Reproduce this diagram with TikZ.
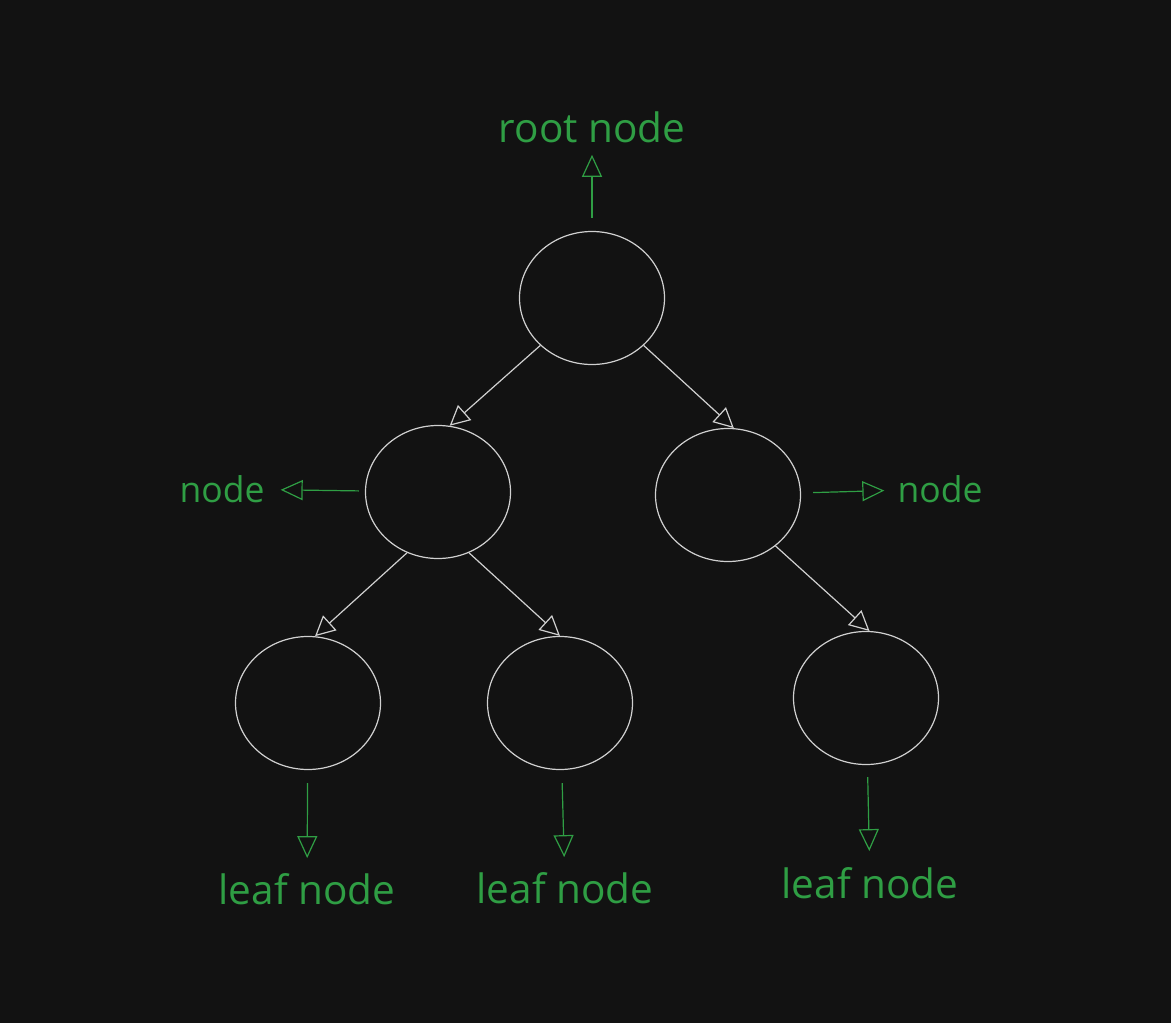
\documentclass[tikz,border=0pt]{standalone}
\usepackage{fontspec}
\setmainfont{Open Sans}
\usetikzlibrary{arrows.meta,positioning,shapes.geometric}
\definecolor{bgdark}{HTML}{121212}
\definecolor{tagcolor}{HTML}{2F9E44}
\definecolor{linecolor}{HTML}{D0D0D0}

\begin{document}
\begin{tikzpicture}[x=1pt,y=-1pt,
		vert/.style={ellipse,draw=linecolor,line width=1.2pt,minimum width=145pt,minimum height=133pt,inner sep=0pt},
		link/.style={draw=linecolor,line width=1.2pt,-{Triangle[open,length=20pt,width=20pt]}},
		tag/.style={text=tagcolor,font=\fontsize{40.5}{46}\selectfont,inner sep=2pt},
		small tag/.style={tag,font=\fontsize{35.5}{40}\selectfont},
		pointer/.style={draw=tagcolor,line width=1.2pt,-{Triangle[open,length=22pt,width=20pt]}}]
			\fill[bgdark] (0,0) rectangle (1171,1023);
			% tree
			\node[vert] (v_0) at (592,298) {};
			\node[vert] (v_1) at (438,492) {};
			\node[vert] (v_2) at (728,495) {};
			\node[vert] (v_3) at (308,703) {};
			\node[vert] (v_4) at (560,703) {};
			\node[vert] (v_5) at (866,698) {};
			\path[every edge/.style={link}]
				(v_0.south west) edge (v_1.80)
				(v_0.south east) edge (v_2.85)
				(v_1.243) edge (v_3.84)
				(v_1.297) edge (v_4.north)
				(v_2.313) edge (v_5.87);
			% labels
			\node[tag] (t_0) at (592,127) {root node};
			\node[small tag] (t_1) at (222,489) {node};
			\node[small tag] (t_2) at (940,489) {node};
			\node[tag] (t_3) at (307,889) {leaf node};
			\node[tag] (t_4) at (565,888) {leaf node};
			\node[tag] (t_5) at (870,883) {leaf node};
			\draw[pointer,shorten <=13pt,shorten >=10pt] (v_0) -- (t_0);
			\draw[pointer,shorten <=6pt,shorten >=14pt] (v_1) -- (t_1);
			\draw[pointer,shorten <=12pt,shorten >=11pt] (v_2) -- (t_2);
			\draw[pointer,shorten <=13pt,shorten >=13pt] (v_3) -- (t_3);
			\draw[pointer,shorten <=13pt,shorten >=13pt] (v_4) -- (t_4);
			\draw[pointer,shorten <=12pt,shorten >=14pt] (v_5) -- (t_5);
		\end{tikzpicture}
\end{document}
